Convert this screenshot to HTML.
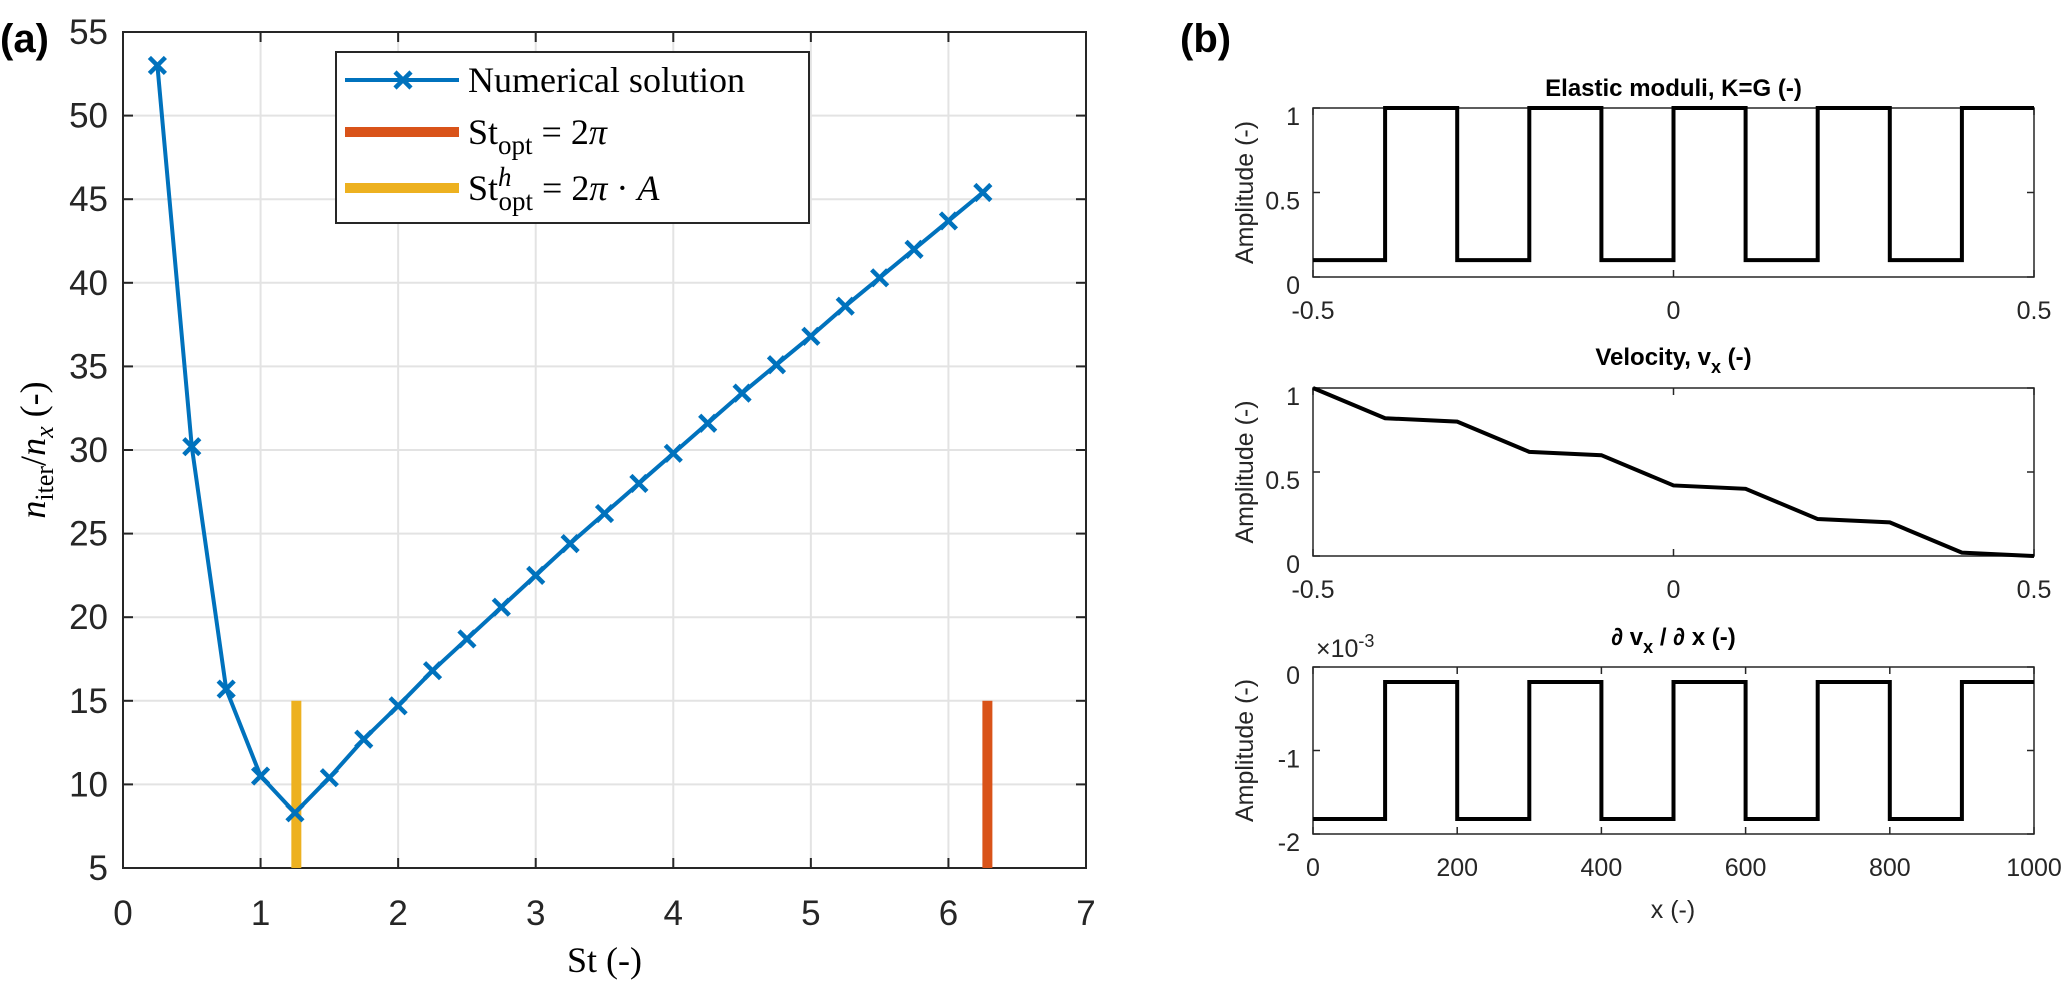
<!DOCTYPE html>
<html><head><meta charset="utf-8"><style>
html,body{margin:0;padding:0;background:#fff;}
svg{display:block;}
.tk{font-family:"Liberation Sans",sans-serif;font-size:35px;fill:#262626;}
.tk2{font-family:"Liberation Sans",sans-serif;font-size:25px;fill:#262626;}
.ttl{font-family:"Liberation Sans",sans-serif;font-size:24px;font-weight:bold;fill:#000;}
.ser{font-family:"Liberation Serif",serif;fill:#000;}
</style></head><body>
<svg id="fig" width="2067" height="983" viewBox="0 0 2067 983" xmlns="http://www.w3.org/2000/svg">
<text x="0" y="52" font-family="Liberation Sans,sans-serif" font-weight="bold" font-size="40">(a)</text>
<text x="1180" y="52" font-family="Liberation Sans,sans-serif" font-weight="bold" font-size="40">(b)</text>
<g id="left"></g>
<g id="right"></g>
</svg>
<script>
const stValues=[0.25,0.5,0.75,1,1.25,1.5,1.75,2,2.25,2.5,2.75,3,3.25,3.5,3.75,4,4.25,4.5,4.75,5,5.25,5.5,5.75,6,6.25];
const iterValues=[53,30.2,15.7,10.5,8.3,10.4,12.7,14.7,16.8,18.7,20.6,22.5,24.4,26.2,28.0,29.8,31.6,33.4,35.1,36.8,38.6,40.3,42.0,43.7,45.4];
const stOpt=6.2832;
const stOptH=1.26;
const optBarRange=[5,15];
const xTicksA=[0,1,2,3,4,5,6,7];
const yTicksA=[5,10,15,20,25,30,35,40,45,50,55];
const moduliX=[-0.5,-0.4,-0.4,-0.3,-0.3,-0.2,-0.2,-0.1,-0.1,0,0,0.1,0.1,0.2,0.2,0.3,0.3,0.4,0.4,0.5];
const moduliY=[0.1,0.1,1,1,0.1,0.1,1,1,0.1,0.1,1,1,0.1,0.1,1,1,0.1,0.1,1,1];
const velX=[-0.5,-0.4,-0.3,-0.2,-0.1,0,0.1,0.2,0.3,0.4,0.5];
const velY=[1,0.82,0.80,0.62,0.60,0.42,0.40,0.22,0.20,0.02,0.0];
const dvX=[0,100,100,200,200,300,300,400,400,500,500,600,600,700,700,800,800,900,900,1000];
const dvY=[-1.82,-1.82,-0.18,-0.18,-1.82,-1.82,-0.18,-0.18,-1.82,-1.82,-0.18,-0.18,-1.82,-1.82,-0.18,-0.18,-1.82,-1.82,-0.18,-0.18];
const NS='http://www.w3.org/2000/svg';
function mk(parent,tag,attrs,text){const e=document.createElementNS(NS,tag);for(const k in attrs)e.setAttribute(k,attrs[k]);if(text!==undefined)e.textContent=text;parent.appendChild(e);return e;}
// ---- left chart
const L=document.getElementById('left');
const ax0=123,ax1=1086,ay0=868,ay1=32;
const sx=v=>ax0+(v-0)/7*(ax1-ax0);
const sy=v=>ay0-(v-5)/50*(ay0-ay1);
xTicksA.forEach(t=>{
 if(t>0&&t<7){const g=mk(L,'line',{x1:sx(t),x2:sx(t),y1:ay1,y2:ay0,stroke:'#e3e3e3','stroke-width':2});
 }
 const tl=mk(L,'text',{x:sx(t),y:925,'text-anchor':'middle',class:'tk'},String(t));
 
 mk(L,'line',{x1:sx(t),x2:sx(t),y1:ay0,y2:ay0-10,stroke:'#262626','stroke-width':2});
 mk(L,'line',{x1:sx(t),x2:sx(t),y1:ay1,y2:ay1+10,stroke:'#262626','stroke-width':2});
});
yTicksA.forEach(t=>{
 if(t>5&&t<55){const g=mk(L,'line',{x1:ax0,x2:ax1,y1:sy(t),y2:sy(t),stroke:'#e3e3e3','stroke-width':2});
 }
 const tl=mk(L,'text',{x:108,y:sy(t)+12,'text-anchor':'end',class:'tk'},String(t));
 
 mk(L,'line',{x1:ax0,x2:ax0+10,y1:sy(t),y2:sy(t),stroke:'#262626','stroke-width':2});
 mk(L,'line',{x1:ax1,x2:ax1-10,y1:sy(t),y2:sy(t),stroke:'#262626','stroke-width':2});
});
const fr=mk(L,'rect',{x:ax0,y:ay1,width:ax1-ax0,height:ay0-ay1,fill:'none',stroke:'#262626','stroke-width':2});

const yb=mk(L,'rect',{x:sx(stOptH)-5,y:sy(optBarRange[1]),width:10,height:sy(optBarRange[0])-sy(optBarRange[1]),fill:'#EDB120'});

const rb=mk(L,'rect',{x:sx(stOpt)-5,y:sy(optBarRange[1]),width:10,height:sy(optBarRange[0])-sy(optBarRange[1]),fill:'#D95319'});

const pl=mk(L,'polyline',{points:stValues.map((s,i)=>sx(s)+','+sy(iterValues[i])).join(' '),fill:'none',stroke:'#0072BD','stroke-width':4,'stroke-linejoin':'round'});

stValues.forEach((s,i)=>{const x=sx(s),y=sy(iterValues[i]),d=8;
 const m=mk(L,'path',{d:`M${x-d},${y-d}L${x+d},${y+d}M${x-d},${y+d}L${x+d},${y-d}`,stroke:'#0072BD','stroke-width':4.5});
 });
const xl=mk(L,'text',{x:(ax0+ax1)/2,y:972,'text-anchor':'middle',class:'ser','font-size':36},'St (-)');

const ylab=mk(L,'text',{x:0,y:0,'text-anchor':'middle',class:'ser','font-size':36,transform:'translate(45,450) rotate(-90)'});

ylab.innerHTML='<tspan font-style="italic">n</tspan><tspan font-size="26" dy="8">iter</tspan><tspan dy="-8">/</tspan><tspan font-style="italic">n</tspan><tspan font-style="italic" font-size="26" dy="8">x</tspan><tspan dy="-8">  (-)</tspan>';
// legend
const lg=mk(L,'g',{});

mk(lg,'rect',{x:336,y:52,width:473,height:171,fill:'#fff',stroke:'#262626','stroke-width':2});
const le=[['#0072BD',80,'Numerical solution'],['#D95319',132,''],['#EDB120',188,'']];
le.forEach((e,i)=>{
 const g=mk(lg,'g',{});
 mk(g,'line',{x1:345,x2:459,y1:e[1],y2:e[1],stroke:e[0],'stroke-width':i===0?4:10});
 if(i===0){const x=403,y=e[1],d=8;mk(g,'path',{d:`M${x-d},${y-d}L${x+d},${y+d}M${x-d},${y+d}L${x+d},${y-d}`,stroke:e[0],'stroke-width':4.5});}
 const t=mk(g,'text',{x:468,y:e[1]+12,class:'ser','font-size':36});
 if(i===0)t.textContent=e[2];
 else if(i===1)t.innerHTML='St<tspan font-size="27" dy="10">opt</tspan><tspan dy="-10"> = 2</tspan><tspan font-style="italic">π</tspan>';
 else t.innerHTML='St<tspan font-size="27" font-style="italic" dy="-14">h</tspan><tspan font-size="27" dx="-13" dy="24">opt</tspan><tspan dy="-10"> = 2</tspan><tspan font-style="italic">π</tspan> · <tspan font-style="italic">A</tspan>';
});
// ---- right panels
const R=document.getElementById('right');
function panel(name,top,bot,xmin,xmax,ymin,ymax,xt,yt,xs,ys,title,titleY,xlabels){
 const x0=1313,x1=2034;
 const g=mk(R,'g',{});
 const px=v=>x0+(v-xmin)/(xmax-xmin)*(x1-x0);
 const py=v=>bot-(v-ymin)/(ymax-ymin)*(bot-top);
 mk(g,'rect',{x:x0,y:top,width:x1-x0,height:bot-top,fill:'none',stroke:'#262626','stroke-width':1.5});
 xt.forEach(t=>{mk(g,'line',{x1:px(t),x2:px(t),y1:bot,y2:bot-7,stroke:'#262626','stroke-width':1.5});
  mk(g,'line',{x1:px(t),x2:px(t),y1:top,y2:top+7,stroke:'#262626','stroke-width':1.5});
  const tl=mk(g,'text',{x:px(t),y:bot+42,'text-anchor':'middle',class:'tk2'},String(t));
  });
 yt.forEach(t=>{mk(g,'line',{x1:x0,x2:x0+7,y1:py(t),y2:py(t),stroke:'#262626','stroke-width':1.5});
  mk(g,'line',{x1:x1,x2:x1-7,y1:py(t),y2:py(t),stroke:'#262626','stroke-width':1.5});
  const tl=mk(g,'text',{x:1300,y:py(t)+17,'text-anchor':'end',class:'tk2','font-size':28},String(t));
  });
 const ln=mk(g,'polyline',{points:xs.map((x,i)=>px(x)+','+py(ys[i])).join(' '),fill:'none',stroke:'#000','stroke-width':4});
 
 const tt=mk(g,'text',{x:(x0+x1)/2,y:titleY,'text-anchor':'middle',class:'ttl'});tt.innerHTML=title;
 
 const yl=mk(g,'text',{x:0,y:0,'text-anchor':'middle',class:'tk2','font-size':27,transform:`translate(1253,${(top+bot)/2}) rotate(-90)`},'Amplitude (-)');
 
 return g;
}
panel('elastic-moduli-panel',108,277,-0.5,0.5,0,1,[-0.5,0,0.5],[0,0.5,1],moduliX,moduliY,'Elastic moduli, K=G (-)',96);
panel('velocity-panel',388,556,-0.5,0.5,0,1,[-0.5,0,0.5],[0,0.5,1],velX,velY,'Velocity, v<tspan font-size="18" dy="8">x</tspan><tspan dy="-8"> (-)</tspan>',365);
const gb=panel('strain-rate-panel',667,834,0,1000,-2,0,[0,200,400,600,800,1000],[-2,-1,0],dvX,dvY,'∂ v<tspan font-size="18" dy="8">x</tspan><tspan dy="-8"> / ∂ x (-)</tspan>',645);
const ex=mk(gb,'text',{x:1316,y:657,class:'tk2'});ex.innerHTML='×10<tspan font-size="18" dy="-10">-3</tspan>';

const xr=mk(gb,'text',{x:1673,y:918,'text-anchor':'middle',class:'tk2'},'x (-)');

</script>
</body></html>
